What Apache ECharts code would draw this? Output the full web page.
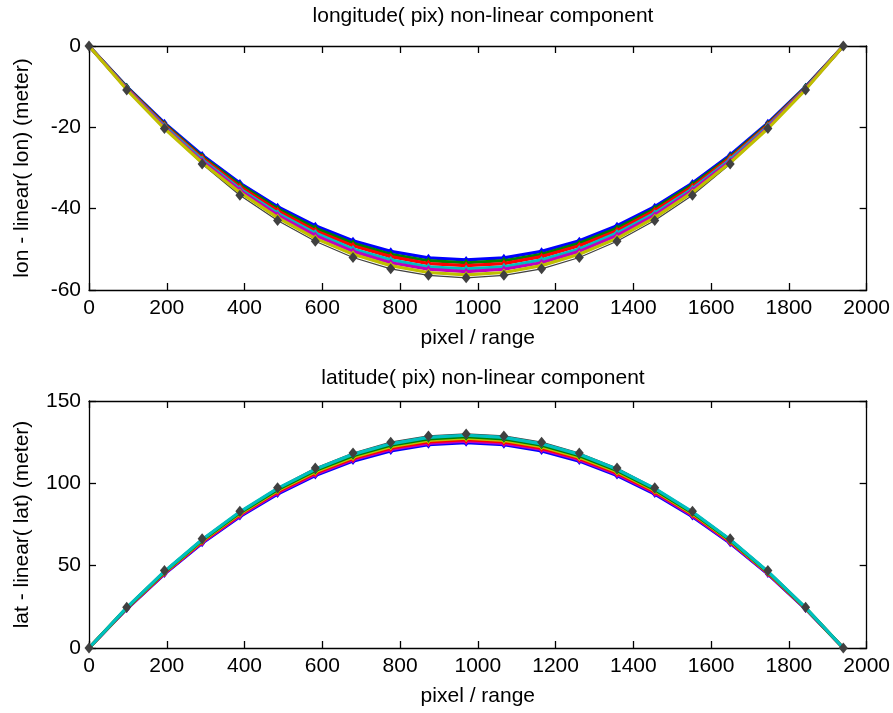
<!DOCTYPE html>
<html><head><meta charset="utf-8">
<script src="https://cdn.jsdelivr.net/npm/echarts@6/dist/echarts.min.js"></script>
<style>html,body{margin:0;padding:0;background:#fff}#c{width:893px;height:713px}</style>
</head><body><div id="c"></div>
<script>
// x positions (pixel / range)
var xPix = [0,97,194,291,388,485,582,679,776,873,970,1067,1164,1261,1358,1455,1552,1649,1746,1843,1940];

// top: longitude non-linear component (meter), one array per line
var lonB = [0,-10.0,-18.9,-26.8,-33.7,-39.5,-44.2,-47.9,-50.5,-52.1,-52.6,-52.1,-50.5,-47.9,-44.2,-39.5,-33.7,-26.8,-18.9,-10.0,0];
var lonG = [0,-10.1,-19.2,-27.2,-34.1,-40.0,-44.8,-48.5,-51.2,-52.8,-53.3,-52.8,-51.2,-48.5,-44.8,-40.0,-34.1,-27.2,-19.2,-10.1,0];
var lonR = [0,-10.3,-19.4,-27.5,-34.6,-40.5,-45.4,-49.1,-51.8,-53.5,-54.0,-53.5,-51.8,-49.1,-45.4,-40.5,-34.6,-27.5,-19.4,-10.3,0];
var lonC = [0,-10.4,-19.7,-27.9,-35.1,-41.1,-46.0,-49.9,-52.6,-54.3,-54.8,-54.3,-52.6,-49.9,-46.0,-41.1,-35.1,-27.9,-19.7,-10.4,0];
var lonM = [0,-10.5,-20.0,-28.3,-35.5,-41.6,-46.6,-50.5,-53.3,-54.9,-55.5,-54.9,-53.3,-50.5,-46.6,-41.6,-35.5,-28.3,-20.0,-10.5,0];
var lonY = [0,-10.7,-20.3,-28.7,-36.0,-42.2,-47.3,-51.2,-54.0,-55.7,-56.3,-55.7,-54.0,-51.2,-47.3,-42.2,-36.0,-28.7,-20.3,-10.7,0];
var lonK = [0,-10.8,-20.3,-29.0,-36.7,-42.9,-48.0,-52.0,-54.8,-56.4,-57.0,-56.4,-54.8,-52.0,-48.0,-42.9,-36.7,-29.0,-20.3,-10.8,0];

// bottom: latitude non-linear component (meter)
var latB = [0,23.7,44.9,63.6,79.8,93.5,104.7,113.5,119.7,123.5,124.7,123.5,119.7,113.5,104.7,93.5,79.8,63.6,44.9,23.7,0];
var latG = [0,23.9,45.2,64.1,80.4,94.2,105.5,114.3,120.6,124.3,125.6,124.3,120.6,114.3,105.5,94.2,80.4,64.1,45.2,23.9,0];
var latR = [0,24.0,45.5,64.5,81.0,94.9,106.3,115.1,121.4,125.2,126.5,125.2,121.4,115.1,106.3,94.9,81.0,64.5,45.5,24.0,0];
var latC = [0,24.2,45.9,65.0,81.5,95.6,107.0,115.9,122.3,126.1,127.4,126.1,122.3,115.9,107.0,95.6,81.5,65.0,45.9,24.2,0];
var latM = [0,24.4,46.2,65.4,82.1,96.2,107.8,116.8,123.2,127.0,128.3,127.0,123.2,116.8,107.8,96.2,82.1,65.4,46.2,24.4,0];
var latY = [0,24.5,46.5,65.9,82.7,96.9,108.5,117.6,124.0,127.9,129.2,127.9,124.0,117.6,108.5,96.9,82.7,65.9,46.5,24.5,0];
var latK = [0,24.8,47.0,66.3,83.0,97.3,109.3,118.4,125.0,128.8,130.0,128.8,125.0,118.4,109.3,97.3,83.0,66.3,47.0,24.8,0];

var xTicks = [0,200,400,600,800,1000,1200,1400,1600,1800,2000];
var lonTicks = [-60,-40,-20,0];
var latTicks = [0,50,100,150];

var lonColors = ['#0000ff','#008000','#ff0000','#00bfbf','#bf00bf','#bfbf00','#404040'];
var latColors = ['#0000ff','#bf00bf','#ff0000','#bfbf00','#008000','#00bfbf','#404040'];
var lonSets = [lonB,lonG,lonR,lonC,lonM,lonY,lonK];
var latSets = [latB,latG,latR,latC,latM,latY,latK];

var FONT = 'Liberation Sans';
var FS = 21;

function pairs(ys){ return xPix.map(function(x,i){ return [x, ys[i]]; }); }
function plain(v){ return String(v); }

function xAx(grid, pos, show){
  return {type:'value', gridIndex:grid, position:pos, min:0, max:2000, interval:200,
    axisLine:{show:true, onZero:false, lineStyle:{color:'#000', width:1.3}},
    axisTick:{show:true, inside:true, length:7, lineStyle:{color:'#000', width:1.3}},
    axisLabel:{show:show, color:'#000', fontFamily:FONT, fontSize:FS, margin:8, formatter:plain},
    splitLine:{show:false},
    name: show ? 'pixel / range' : '', nameLocation:'middle', nameGap:38,
    nameTextStyle:{color:'#000', fontFamily:FONT, fontSize:FS}};
}
function yAx(grid, pos, show, mn, mx, iv, nm){
  return {type:'value', gridIndex:grid, position:pos, min:mn, max:mx, interval:iv,
    axisLine:{show:true, onZero:false, lineStyle:{color:'#000', width:1.3}},
    axisTick:{show:true, inside:true, length:7, lineStyle:{color:'#000', width:1.3}},
    axisLabel:{show:show, color:'#000', fontFamily:FONT, fontSize:FS, margin:8, formatter:plain},
    splitLine:{show:false},
    name: show ? nm : '', nameLocation:'middle', nameGap:56, nameRotate:90,
    nameTextStyle:{color:'#000', fontFamily:FONT, fontSize:FS}};
}

var series = [];
function addSets(sets, colors, axIdx){
  sets.forEach(function(ys, k){
    var last = (k === sets.length-1);
    if (last) {
      // thin dark line underneath, markers on top
      series.push({type:'line', xAxisIndex:axIdx, yAxisIndex:axIdx, data:pairs(ys),
        clip:false, animation:false, symbol:'none',
        lineStyle:{color:colors[k], width:1.2}, z:1});
      series.push({type:'scatter', xAxisIndex:axIdx, yAxisIndex:axIdx, data:pairs(ys),
        clip:false, animation:false, symbol:'diamond', symbolSize:[9,11],
        itemStyle:{color:colors[k], opacity:1}, z:20});
    } else {
      series.push({type:'line', xAxisIndex:axIdx, yAxisIndex:axIdx, data:pairs(ys),
        clip:false, animation:false,
        symbol:'diamond', symbolSize:[6,8],
        itemStyle:{color:colors[k]},
        lineStyle:{color:colors[k], width:3.2},
        z: 2 + k});
    }
  });
}
addSets(lonSets, lonColors, 0);
addSets(latSets, latColors, 2);

var chart = echarts.init(document.getElementById('c'), null, {renderer:'canvas'});
chart.setOption({
  backgroundColor:'#fff',
  animation:false,
  title:[
    {text:'longitude( pix) non-linear component', left:478, top:1, textAlign:'center',
     textStyle:{color:'#000', fontFamily:FONT, fontSize:FS, fontWeight:'normal'}},
    {text:'latitude( pix) non-linear component', left:478, top:363, textAlign:'center',
     textStyle:{color:'#000', fontFamily:FONT, fontSize:FS, fontWeight:'normal'}}
  ],
  grid:[
    {left:89, top:46, width:778, height:244},
    {left:89, top:401, width:778, height:247}
  ],
  xAxis:[ xAx(0,'bottom',true), xAx(0,'top',false), xAx(1,'bottom',true), xAx(1,'top',false) ],
  yAxis:[
    yAx(0,'left',true,-60,0,20,'lon - linear( lon) (meter)'),
    yAx(0,'right',false,-60,0,20,''),
    yAx(1,'left',true,0,150,50,'lat - linear( lat) (meter)'),
    yAx(1,'right',false,0,150,50,'')
  ],
  series: series
});
</script></body></html>
